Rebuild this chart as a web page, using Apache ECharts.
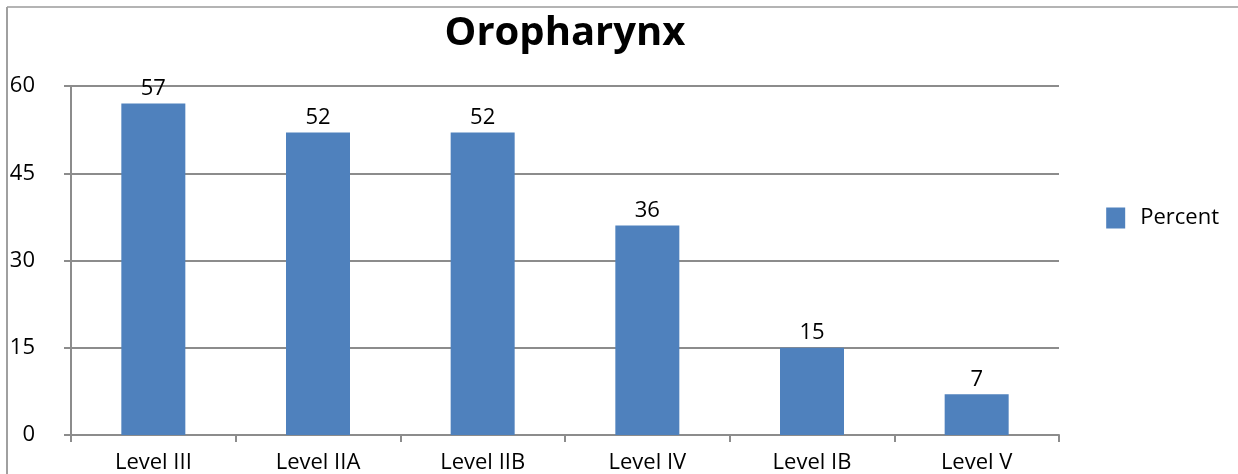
<!DOCTYPE html>
<html>
<head>
<meta charset="utf-8">
<script src="https://cdn.jsdelivr.net/npm/echarts@6/dist/echarts.min.js"></script>
<style>
  html, body { margin: 0; padding: 0; background: #fff; }
  #main { width: 1238px; height: 474px; }
</style>
</head>
<body>
<div id="main"></div>
<script>
const categories = ['Level III', 'Level IIA', 'Level IIB', 'Level IV', 'Level IB', 'Level V']
const percentValues = [57, 52, 52, 36, 15, 7]
const seriesName = 'Percent'
const chartTitle = 'Oropharynx'

const chart = echarts.init(document.getElementById('main'))
const axisGray = '#8c8c8c'
const font = 'Open Sans, Noto Sans, sans-serif'

chart.setOption({
  animation: false,
  title: {
    text: chartTitle,
    left: 560,
    textAlign: 'center',
    top: 9,
    textStyle: { fontFamily: font, fontSize: 40, fontWeight: 'bold', color: '#000' }
  },
  legend: {
    right: 14,
    top: 202,
    itemWidth: 19,
    itemHeight: 21,
    icon: 'rect',
    textStyle: { fontFamily: font, fontSize: 22, color: '#000', padding: [0, 0, 0, 10] },
    data: [seriesName]
  },
  grid: { left: 71, right: 179, top: 86, bottom: 39 },
  xAxis: {
    type: 'category',
    data: categories,
    axisLine: { lineStyle: { color: axisGray, width: 2 } },
    axisTick: { show: true, length: 7, lineStyle: { color: axisGray, width: 2 } },
    axisLabel: { fontFamily: font, fontSize: 22, color: '#000', margin: 17 }
  },
  yAxis: {
    type: 'value',
    min: 0,
    max: 60,
    interval: 15,
    axisLine: { show: true, lineStyle: { color: axisGray, width: 2 } },
    axisTick: { show: true, length: 7, lineStyle: { color: axisGray, width: 2 } },
    splitLine: { lineStyle: { color: axisGray, width: 2 } },
    axisLabel: { fontFamily: font, fontSize: 22, color: '#000', margin: 36 }
  },
  graphic: [
    { type: 'line', shape: { x1: 7, y1: 7, x2: 1238, y2: 7 }, style: { stroke: '#b4b4b4', lineWidth: 2 } },
    { type: 'line', shape: { x1: 7, y1: 7, x2: 7, y2: 474 }, style: { stroke: '#a0a0a0', lineWidth: 2 } }
  ],
  series: [{
    name: seriesName,
    type: 'bar',
    data: percentValues,
    barWidth: 64,
    itemStyle: { color: '#4f81bd' },
    label: {
      show: true,
      position: 'top',
      distance: 4,
      fontFamily: font,
      fontSize: 22,
      color: '#000'
    }
  }]
})
</script>
</body>
</html>
